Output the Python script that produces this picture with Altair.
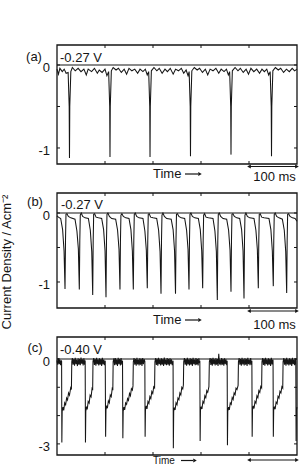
import altair as alt
import pandas as pd

# ---------------------------------------------------------------- data
# time in ms (each panel spans 500 ms; scale bar = 100 ms), current density in A cm^-2

# panel (a)  -0.27 V : sparse spikes
a_t = [0, 3, 6, 11, 15, 19,
       23.2, 25.4, 26, 26.6, 28.8,
       32, 38, 44, 50, 56, 61, 65, 72, 78, 84, 88, 94, 100, 104,
       107.6, 109.8, 110.4, 111, 113.2,
       117, 123, 128, 134, 140, 145, 150, 156, 162, 168, 173, 179, 184, 188,
       191, 193.2, 193.8, 194.4, 196.6,
       202, 208, 213, 219, 225, 230, 236, 242, 247, 253, 259, 264, 269, 273,
       275.3, 277.5, 278.1, 278.7, 280.9,
       286, 292, 297, 303, 309, 314, 319, 325, 331, 337, 342, 348, 353, 357,
       359.7, 361.9, 362.5, 363.1, 365.3,
       371, 377, 382, 388, 394, 399, 404, 410, 416, 422, 427, 432, 437, 441,
       444.1, 446.3, 446.9, 447.5, 449.7,
       455, 461, 466, 472, 478, 484, 490, 495, 500]
a_j = [-0.05, -0.11, -0.04, -0.08, -0.05, -0.10,
       -0.09, -0.5, -1.12, -0.5, -0.08,
       -0.03, -0.07, -0.04, -0.08, -0.05, -0.12, -0.05, -0.08, -0.04, -0.10, -0.06, -0.09, -0.05, -0.13,
       -0.08, -0.5, -1.11, -0.5, -0.07,
       -0.03, -0.06, -0.04, -0.09, -0.05, -0.11, -0.04, -0.07, -0.05, -0.10, -0.05, -0.08, -0.05, -0.12,
       -0.08, -0.5, -1.11, -0.5, -0.07,
       -0.03, -0.07, -0.04, -0.10, -0.05, -0.08, -0.04, -0.11, -0.05, -0.07, -0.04, -0.10, -0.06, -0.13,
       -0.08, -0.5, -1.10, -0.5, -0.07,
       -0.03, -0.06, -0.04, -0.09, -0.05, -0.12, -0.05, -0.07, -0.04, -0.10, -0.05, -0.08, -0.05, -0.12,
       -0.08, -0.5, -1.08, -0.5, -0.07,
       -0.03, -0.07, -0.04, -0.09, -0.05, -0.11, -0.04, -0.08, -0.05, -0.10, -0.05, -0.08, -0.05, -0.12,
       -0.08, -0.5, -1.10, -0.5, -0.07,
       -0.03, -0.06, -0.04, -0.09, -0.05, -0.08, -0.04, -0.07, -0.05]

# panel (b)  -0.27 V : dense teeth
b_t = [0, 3,
       7.7, 11.7, 14.7, 16.7, 17.7, 18.7, 20.7, 23.7, 28.7,
       37.5, 41.5, 44.5, 46.5, 47.5, 48.5, 50.5, 53.5, 58.5,
       65.4, 69.4, 72.4, 74.4, 75.4, 76.4, 78.4, 81.4, 86.4,
       93.1, 97.1, 100.1, 102.1, 103.1, 104.1, 106.1, 109.1, 114.1,
       122.2, 126.2, 129.2, 131.2, 132.2, 133.2, 135.2, 138.2, 143.2,
       150.0, 154.0, 157.0, 159.0, 160.0, 161.0, 163.0, 166.0, 171.0,
       179.1, 183.1, 186.1, 188.1, 189.1, 190.1, 192.1, 195.1, 200.1,
       207.7, 211.7, 214.7, 216.7, 217.7, 218.7, 220.7, 223.7, 228.7,
       237.9, 241.9, 244.9, 246.9, 247.9, 248.9, 250.9, 253.9, 258.9,
       266.0, 270.0, 273.0, 275.0, 276.0, 277.0, 279.0, 282.0, 287.0,
       294.5, 298.5, 301.5, 303.5, 304.5, 305.5, 307.5, 310.5, 315.5,
       325.0, 329.0, 332.0, 334.0, 335.0, 336.0, 338.0, 341.0, 346.0,
       353.5, 357.5, 360.5, 362.5, 363.5, 364.5, 366.5, 369.5, 374.5,
       380.6, 384.6, 387.6, 389.6, 390.6, 391.6, 393.6, 396.6, 401.6,
       410.4, 414.4, 417.4, 419.4, 420.4, 421.4, 423.4, 426.4, 431.4,
       441.6, 445.6, 448.6, 450.6, 451.6, 452.6, 454.6, 457.6, 462.6,
       469.5, 473.5, 476.5, 478.5, 479.5, 480.5, 482.5, 485.5, 490.5,
       496, 500]
b_j = [-0.04, -0.06,
       -0.08, -0.24, -0.55, -1.10, -0.40, -0.02, -0.01, -0.05, -0.07,
       -0.09, -0.26, -0.52, -1.11, -0.40, -0.03, 0.00, -0.05, -0.07,
       -0.08, -0.25, -0.56, -1.19, -0.40, -0.02, -0.01, -0.06, -0.07,
       -0.08, -0.24, -0.55, -1.22, -0.40, -0.02, 0.00, -0.05, -0.08,
       -0.09, -0.25, -0.53, -1.11, -0.40, -0.03, -0.01, -0.05, -0.07,
       -0.08, -0.24, -0.55, -1.11, -0.40, -0.02, 0.00, -0.05, -0.07,
       -0.08, -0.26, -0.54, -1.09, -0.40, -0.02, -0.01, -0.06, -0.07,
       -0.08, -0.25, -0.56, -1.17, -0.40, -0.03, 0.00, -0.05, -0.08,
       -0.09, -0.24, -0.55, -1.17, -0.40, -0.02, -0.01, -0.05, -0.07,
       -0.08, -0.25, -0.53, -1.11, -0.40, -0.02, 0.00, -0.05, -0.07,
       -0.08, -0.24, -0.55, -1.09, -0.40, -0.03, -0.01, -0.06, -0.07,
       -0.08, -0.26, -0.56, -1.26, -0.40, -0.02, 0.00, -0.05, -0.08,
       -0.09, -0.25, -0.54, -1.14, -0.40, -0.02, -0.01, -0.05, -0.07,
       -0.08, -0.24, -0.55, -1.24, -0.40, -0.03, 0.00, -0.05, -0.07,
       -0.08, -0.25, -0.53, -1.09, -0.40, -0.02, -0.01, -0.06, -0.07,
       -0.08, -0.24, -0.55, -1.06, -0.40, -0.02, 0.00, -0.05, -0.07,
       -0.09, -0.25, -0.56, -1.16, -0.40, -0.02, -0.01, -0.05, -0.07,
       -0.08, -0.12]

# panel (c)  -0.40 V : deep drops, ramp, noisy plateau
c_t = [0, 1.5, 3, 4.5, 6, 7.5, 9,
       9.6, 10.1, 10.8,
       12.5, 14, 16, 18, 20, 22, 24, 26, 28.5, 30, 30.8,
       32, 33.5, 35, 36.5, 38, 39.5, 41, 42.5, 44, 45.5, 47, 48.5, 50, 51.5, 53, 54.5, 56, 57.5, 58.7,
       59.3, 60,
       61.5, 63, 65, 67, 69, 71, 73, 74.3, 75,
       76.5, 78, 79.5, 81, 82.5, 84, 85.5, 87, 88.5, 90, 91.5, 93, 94.5, 96, 97.5, 99, 100.5,
       101.3, 102,
       103.5, 105, 107, 109, 111, 113, 115, 116.3, 117,
       118.5, 120, 121.5, 123, 124.5, 126, 127.5, 129, 130.5, 132, 133.5, 135, 136.5,
       137.2, 137.9,
       139.5, 141, 143, 145, 147, 149, 151, 153, 155, 157, 158.3, 159,
       160.5, 162, 163.5, 165, 166.5, 168, 169.5, 171, 172.5, 174, 175.5, 177, 178.5, 180, 181.5, 183,
       183.6, 184.3,
       186, 187.5, 189.5, 191.5, 193.5, 195.5, 197.5, 199.5, 201.5, 203.3, 204,
       205.5, 207, 208.5, 210, 211.5, 213, 214.5, 216, 217.5, 219, 220.5, 222, 223.5, 225, 226.5, 228,
       229.5, 231, 232.5, 234, 235.5, 237, 238.5, 240, 241.8,
       242.4, 243.1,
       244.5, 246, 248, 250, 252, 254, 256, 258, 260, 262, 263.3, 264,
       265.5, 267, 268.5, 270, 271.5, 273, 274.5, 276, 277.5, 279, 280.5, 282, 283.5, 285, 286.5, 288,
       289.5, 291, 292.5, 294, 295.5, 297, 297.6,
       298.2, 298.9,
       300.5, 302, 304, 306, 308, 310, 312, 314, 316.5, 317.4,
       319, 320.5, 322, 323.5, 325, 326.5, 328, 329.5, 331, 332.5, 334, 335.5, 337, 338.5, 340, 341.5,
       343, 344.5, 346, 347.5, 349, 350.5, 352, 353.5, 354.5,
       355.1, 355.8,
       357.5, 359, 361, 363, 365, 367, 369, 371, 373, 375, 377.3, 378,
       379.5, 381, 382.5, 384, 385.5, 387, 388.5, 390, 391.5, 393, 394.5, 396, 397.5, 399, 400.5, 402,
       403.5, 405, 406,
       406.6, 407.3,
       409, 410.5, 412.5, 414.5, 416.5, 418.5, 420.5, 422.5, 424.5, 426.3, 427,
       428.5, 430, 431.5, 433, 434.5, 436, 437.5, 439, 440.5, 442, 443.5, 445, 446.5, 448, 449.5, 450.1,
       450.7, 451.4,
       453, 454.5, 456.5, 458.5, 460.5, 462.5, 464.5, 466.5, 468.5, 470.3, 471,
       472.5, 474, 475.5, 477, 478.5, 480, 481.5, 483, 484.5, 486, 487.5, 489, 490.5, 492, 493.5, 495,
       496.5, 497.5,
       498.1, 498.8, 500]
c_j = [-0.05, -0.20, 0.02, -0.18, -0.02, -0.22, -0.05,
       -0.08, -2.95, -1.85,
       -1.70, -1.82, -1.55, -1.62, -1.38, -1.45, -1.20, -1.28, -1.02, -1.08, -0.10,
       0.03, -0.20, 0.00, -0.24, 0.04, -0.18, -0.02, -0.25, 0.02, -0.20, 0.00, -0.22, 0.05, -0.17, -0.01, -0.23, 0.02, -0.20, -0.05,
       -2.95, -1.85,
       -1.68, -1.78, -1.50, -1.56, -1.28, -1.34, -1.05, -1.10, -0.08,
       0.03, -0.21, 0.00, -0.24, 0.04, -0.18, -0.01, -0.23, 0.02, -0.20, 0.00, -0.25, 0.04, -0.19, -0.02, -0.22, -0.06,
       -2.75, -1.80,
       -1.65, -1.74, -1.48, -1.55, -1.27, -1.33, -1.05, -1.10, -0.09,
       0.02, -0.22, 0.03, -0.20, -0.01, -0.25, 0.04, -0.18, 0.00, -0.23, 0.03, -0.20, -0.06,
       -2.80, -1.85,
       -1.70, -1.80, -1.55, -1.60, -1.40, -1.46, -1.22, -1.30, -1.05, -1.10, -0.95, -0.10,
       0.03, -0.20, 0.00, -0.24, 0.04, -0.19, -0.02, -0.23, 0.02, -0.20, 0.01, -0.25, 0.03, -0.18, -0.01, -0.08,
       -2.75, -1.80,
       -1.66, -1.76, -1.50, -1.57, -1.33, -1.40, -1.15, -1.22, -0.98, -1.02, -0.10,
       0.03, -0.21, 0.01, -0.24, 0.04, -0.18, -0.01, -0.23, 0.02, -0.20, 0.00, -0.25, 0.05, -0.19, -0.02, -0.22,
       0.03, -0.20, 0.00, -0.24, 0.02, -0.18, -0.01, -0.22, -0.06,
       -3.15, -1.85,
       -1.72, -1.80, -1.55, -1.62, -1.38, -1.44, -1.20, -1.27, -1.00, -1.06, -0.92, -0.10,
       0.03, -0.20, 0.00, -0.24, 0.04, -0.19, -0.01, -0.23, 0.02, -0.20, 0.00, -0.25, 0.04, -0.18, -0.02, -0.22,
       0.03, -0.20, 0.00, -0.23, 0.02, -0.15, -0.06,
       -2.90, -1.82,
       -1.68, -1.76, -1.50, -1.56, -1.30, -1.37, -1.12, -1.18, -0.98, -0.10,
       0.03, -0.21, 0.01, -0.24, 0.04, -0.18, -0.01, -0.23, 0.02, -0.20, 0.00, -0.25, 0.18, -0.19, -0.02, -0.22,
       0.03, -0.20, 0.00, -0.24, 0.02, -0.18, -0.01, -0.22, -0.06,
       -3.05, -1.85,
       -1.70, -1.80, -1.55, -1.60, -1.36, -1.43, -1.20, -1.26, -1.03, -1.08, -0.93, -0.10,
       0.03, -0.20, 0.00, -0.24, 0.04, -0.19, -0.01, -0.23, 0.02, -0.20, 0.00, -0.25, 0.04, -0.18, -0.02, -0.22,
       0.03, -0.20, -0.06,
       -2.75, -1.80,
       -1.66, -1.75, -1.50, -1.56, -1.30, -1.37, -1.12, -1.18, -0.97, -1.02, -0.10,
       0.03, -0.21, 0.01, -0.24, 0.04, -0.18, -0.01, -0.23, 0.02, -0.20, 0.00, -0.25, 0.04, -0.19, -0.02, -0.06,
       -2.75, -1.82,
       -1.68, -1.77, -1.52, -1.58, -1.32, -1.38, -1.14, -1.20, -0.98, -1.03, -0.10,
       0.03, -0.20, 0.00, -0.24, 0.04, -0.19, -0.01, -0.23, 0.02, -0.20, 0.00, -0.25, 0.04, -0.18, -0.02, -0.22,
       0.02, -0.06,
       -2.90, -1.80, -1.70]

panel_keys = ["a", "b", "c"]
panel_letters = ["(a)", "(b)", "(c)"]
potentials = ["-0.27 V", "-0.27 V", "-0.40 V"]
y_domains = [[-1.193, 0.241], [-1.377, 0.290], [-3.392, 0.777]]
y_tick_values = [[0, -0.5, -1], [0, -0.5, -1], [0, -1, -2, -3]]
y_tick_labels = [[0, -1], [0, -1], [0, -3]]
x_tick_values = [100, 200, 300, 400]
scale_bar = [400, 500]          # 100 ms
scale_bar_text = ["100 ms", "100 ms", ""]
traces = [(a_t, a_j), (b_t, b_j), (c_t, c_j)]

# ---------------------------------------------------------------- layout
X_RANGE = [57, 297]
Y_RANGES = [[164, 45], [308, 193], [455, 337]]
LETTER_POS = [(34, 56.5), (35, 202), (35, 348)]
POT_POS = [(60, 58), (61, 205), (60, 350)]
TIME_Y = [174, 320, 460.5]
TIME_SIZE = [13, 13, 10]
TIME_ARROW_X = [(185, 198, 200), (185, 198, 200), (181, 193, 195)]
BAR_Y = [166.5, 311, 460]
MS_Y = [177, 325, 473]
INK = "#151515"
FONT = "Liberation Sans"
TICK_PX = 3

xs = alt.Scale(domain=[0, 500], range=X_RANGE, nice=False, zero=False)


def txt(text, x, y, align="left", size=13, angle=0):
    return alt.Chart(pd.DataFrame({"k": [0]})).mark_text(
        text=text, align=align, baseline="middle", fontSize=size,
        font=FONT, color=INK, angle=angle
    ).encode(x=alt.value(x), y=alt.value(y))


panels = []
for i, key in enumerate(panel_keys):
    ydom = y_domains[i]
    yr = Y_RANGES[i]
    ys = alt.Scale(domain=ydom, range=yr, nice=False, zero=False)
    ppu = (yr[0] - yr[1]) / (ydom[1] - ydom[0])
    tx = TICK_PX * 500 / (X_RANGE[1] - X_RANGE[0])
    ty = TICK_PX / ppu

    t, j = traces[i]
    trace_df = pd.DataFrame({"t": t, "j": j, "i": range(len(t))})
    line = alt.Chart(trace_df).mark_line(color=INK, strokeWidth=1.05).encode(
        x=alt.X("t:Q", scale=xs, axis=None),
        y=alt.Y("j:Q", scale=ys, axis=None),
        order="i:Q",
    )

    frame = alt.Chart(pd.DataFrame({"x": [0], "x2": [500], "y": [ydom[0]], "y2": [ydom[1]]})).mark_rect(
        fillOpacity=0, stroke=INK, strokeWidth=1.3
    ).encode(x=alt.X("x:Q", scale=xs, axis=None), x2="x2:Q",
             y=alt.Y("y:Q", scale=ys, axis=None), y2="y2:Q")

    zero = alt.Chart(pd.DataFrame({"x": [0], "x2": [500], "y": [0]})).mark_rule(
        color=INK, strokeWidth=1.2
    ).encode(x=alt.X("x:Q", scale=xs, axis=None), x2="x2:Q",
             y=alt.Y("y:Q", scale=ys, axis=None))

    rows = []
    for v in y_tick_values[i]:
        rows.append((0, tx, v, v))
        rows.append((500 - tx, 500, v, v))
    for tv in x_tick_values:
        rows.append((tv, tv, ydom[1], ydom[1] - ty))
        rows.append((tv, tv, ydom[0], ydom[0] + ty))
    tick_df = pd.DataFrame(rows, columns=["x", "x2", "y", "y2"])
    ticks = alt.Chart(tick_df).mark_rule(color=INK, strokeWidth=1).encode(
        x=alt.X("x:Q", scale=xs, axis=None), x2="x2:Q",
        y=alt.Y("y:Q", scale=ys, axis=None), y2="y2:Q")

    lab_df = pd.DataFrame({"t": [0] * len(y_tick_labels[i]), "v": y_tick_labels[i],
                           "s": [str(v) for v in y_tick_labels[i]]})
    labels = alt.Chart(lab_df).mark_text(
        align="right", baseline="middle", dx=-7, dy=3, fontSize=13, font=FONT, color=INK
    ).encode(x=alt.X("t:Q", scale=xs, axis=None), y=alt.Y("v:Q", scale=ys, axis=None), text="s:N")

    bar_df = pd.DataFrame({"x": [scale_bar[0]], "x2": [scale_bar[1]]})
    bar = alt.Chart(bar_df).mark_rule(color=INK, strokeWidth=1.2).encode(
        x=alt.X("x:Q", scale=xs, axis=None), x2="x2:Q", y=alt.value(BAR_Y[i]))
    head_df = pd.DataFrame({"x": scale_bar, "shape": ["triangle-left", "triangle-right"]})
    heads = alt.Chart(head_df).mark_point(filled=True, size=18, color=INK, opacity=1).encode(
        x=alt.X("x:Q", scale=xs, axis=None), y=alt.value(BAR_Y[i]),
        shape=alt.Shape("shape:N", scale=None))

    ax0, ax1, axh = TIME_ARROW_X[i]
    time_arrow = alt.Chart(pd.DataFrame({"k": [0]})).mark_rule(color=INK, strokeWidth=1.2).encode(
        x=alt.value(ax0), x2=alt.value(ax1), y=alt.value(TIME_Y[i]))
    time_head = alt.Chart(pd.DataFrame({"k": [0]})).mark_point(
        filled=True, size=16, color=INK, opacity=1, shape="triangle-right"
    ).encode(x=alt.value(axh), y=alt.value(TIME_Y[i]))

    layers = [frame, zero, ticks, line, labels, bar, heads, time_arrow, time_head,
              txt(panel_letters[i], LETTER_POS[i][0], LETTER_POS[i][1], align="center"),
              txt(potentials[i], POT_POS[i][0], POT_POS[i][1]),
              txt("Time", 153, TIME_Y[i], size=TIME_SIZE[i])]
    if scale_bar_text[i]:
        layers.append(txt(scale_bar_text[i], 274.5, MS_Y[i], align="center"))
    if key == "b":
        layers.append(txt("Current Density / Acm⁻²", 7, 262, align="center", angle=270))
    panels.append(alt.layer(*layers))

chart = alt.layer(*panels).resolve_scale(y="independent").properties(
    width=304, height=465, padding=0,
    autosize=alt.AutoSizeParams(type="none"),
    background="white",
).configure_view(stroke="transparent")

chart.save("out.html", embed_options={"renderer": "svg", "actions": False})
